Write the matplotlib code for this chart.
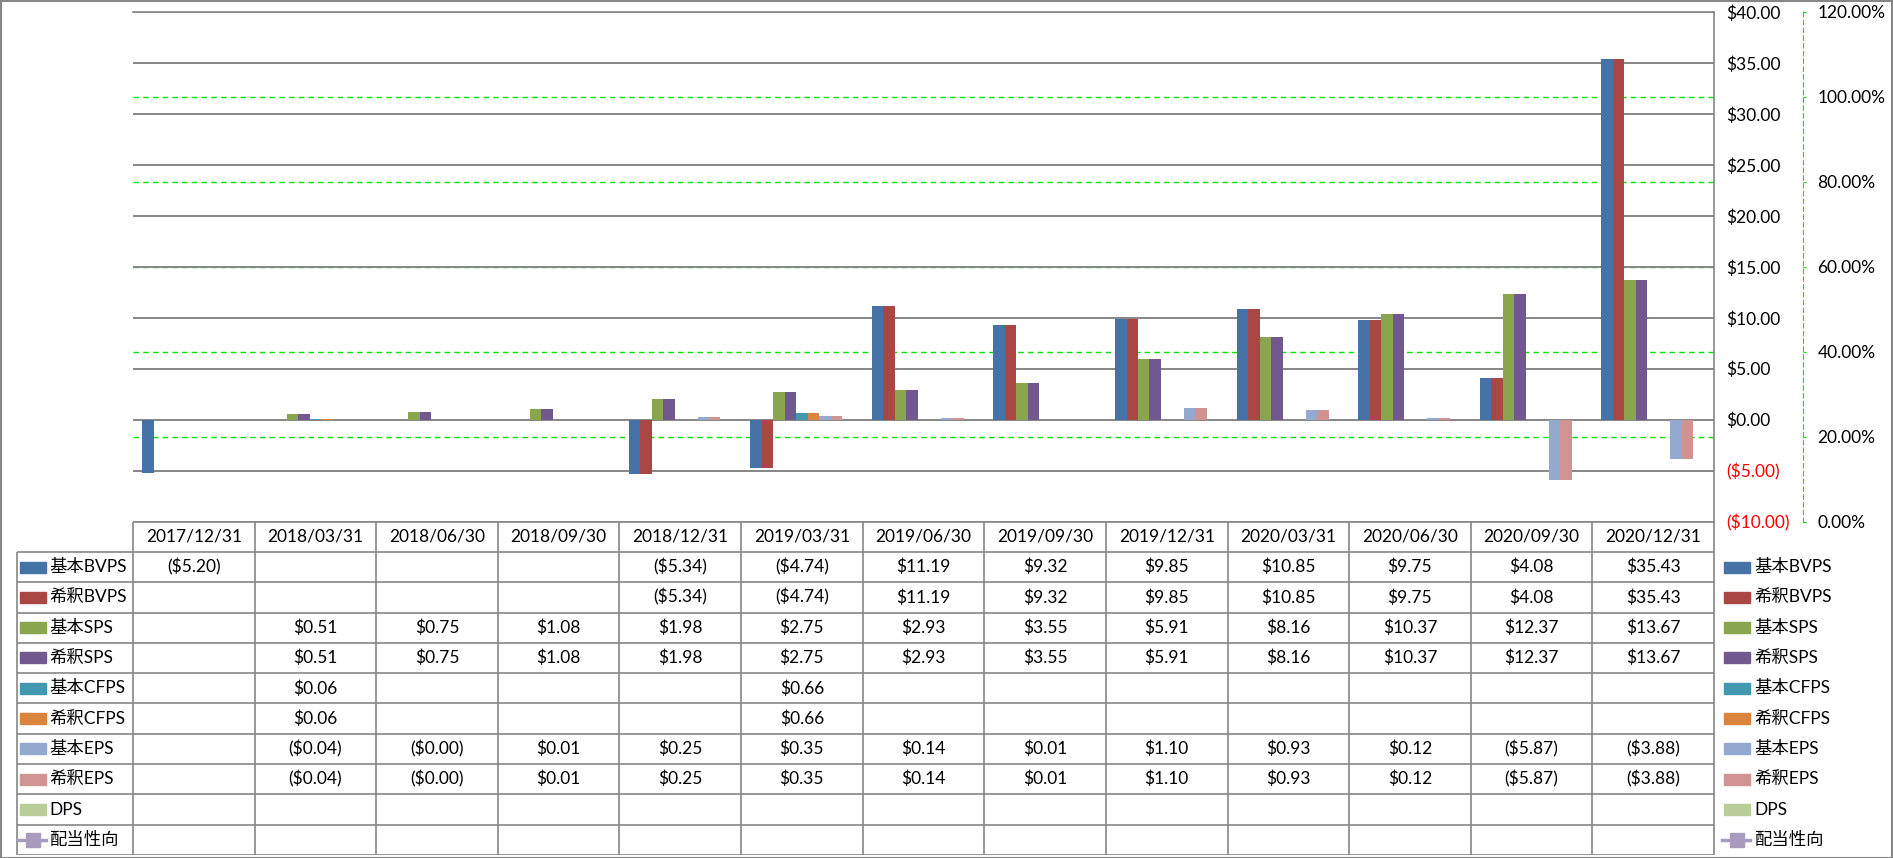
import matplotlib
matplotlib.use("Agg")
import matplotlib.pyplot as plt
import numpy as np
from matplotlib.patches import Rectangle

plt.rcParams['font.family'] = ['Lato', 'Noto Sans CJK JP']

dates = ["2017/12/31", "2018/03/31", "2018/06/30", "2018/09/30", "2018/12/31",
         "2019/03/31", "2019/06/30", "2019/09/30", "2019/12/31", "2020/03/31",
         "2020/06/30", "2020/09/30", "2020/12/31"]

basic_bvps = [-5.20, None, None, None, -5.34, -4.74, 11.19, 9.32, 9.85, 10.85, 9.75, 4.08, 35.43]
dil_bvps = [None, None, None, None, -5.34, -4.74, 11.19, 9.32, 9.85, 10.85, 9.75, 4.08, 35.43]
basic_sps = [None, 0.51, 0.75, 1.08, 1.98, 2.75, 2.93, 3.55, 5.91, 8.16, 10.37, 12.37, 13.67]
dil_sps = [None, 0.51, 0.75, 1.08, 1.98, 2.75, 2.93, 3.55, 5.91, 8.16, 10.37, 12.37, 13.67]
basic_cfps = [None, 0.06, None, None, None, 0.66, None, None, None, None, None, None, None]
dil_cfps = [None, 0.06, None, None, None, 0.66, None, None, None, None, None, None, None]
basic_eps = [None, -0.04, -0.004, 0.01, 0.25, 0.35, 0.14, 0.01, 1.10, 0.93, 0.12, -5.87, -3.88]
dil_eps = [None, -0.04, -0.004, 0.01, 0.25, 0.35, 0.14, 0.01, 1.10, 0.93, 0.12, -5.87, -3.88]
dps = [None] * 13
payout = [None] * 13

names = ["基本BVPS", "希釈BVPS", "基本SPS", "希釈SPS", "基本CFPS", "希釈CFPS",
         "基本EPS", "希釈EPS", "DPS", "配当性向"]
bar_series = [basic_bvps, dil_bvps, basic_sps, dil_sps, basic_cfps, dil_cfps,
              basic_eps, dil_eps, dps]
colors = ["#4572A7", "#AA4643", "#89A54E", "#71588F", "#4198AF", "#DB843D",
          "#93A9CF", "#D19392", "#B9CD96", "#A99BBD"]

primary_ticks = list(range(-10, 41, 5))
secondary_ticks = [0, 0.2, 0.4, 0.6, 0.8, 1.0, 1.2]

W, H = 1893, 858
GRID = "#868686"
LIME = "#00E600"
FS = 12.5

fig = plt.figure(figsize=(W / 100, H / 100), dpi=100)

def money(v):
    if v is None:
        return ""
    if v < 0:
        return "(${:.2f})".format(abs(v))
    return "${:.2f}".format(v)

# plot area
pl, pr, pt, pb = 133, 1714, 12, 521.6
ax = fig.add_axes([pl / W, 1 - pb / H, (pr - pl) / W, (pb - pt) / H])

n = len(bar_series)
w = 0.0945
margin = (1 - n * w) / 2
x0 = np.arange(len(dates))
for k, vals in enumerate(bar_series):
    h = [np.nan if v is None else v for v in vals]
    ax.bar(x0 + margin + (k + 0.5) * w, h, width=w, color=colors[k], zorder=3)

ax.set_xlim(0, len(dates))
ax.set_ylim(-10, 40)
ax.set_xticks([])
ax.grid(axis="y", color=GRID, linewidth=1.4)
ax.set_axisbelow(True)

ax2 = ax.twinx()
ax2.set_ylim(0, 1.2)
ax2.set_yticks(secondary_ticks)
ax2.set_yticklabels(["{:.2f}%".format(v * 100) for v in secondary_ticks])
ax2.tick_params(axis="y", length=2.5, color=LIME, pad=8, labelsize=FS)
# inner secondary gridlines (the outer ones fall on the plot edges)
ax2.hlines(secondary_ticks[1:-1], 0, 1, transform=ax2.get_yaxis_transform(),
           color=LIME, linestyle=(0, (4, 3)), linewidth=1)
for s in ["top", "left", "bottom"]:
    ax2.spines[s].set_visible(False)
ax2.spines["right"].set_position(("outward", 64))
ax2.spines["right"].set_color(LIME)
ax2.spines["right"].set_linestyle((0, (4, 3)))

# primary axis labels sit right of the plot, after twinx reset them
ax.yaxis.tick_right()
ax.set_yticks(primary_ticks)
ax.set_yticklabels([money(v) for v in primary_ticks])
for lab, v in zip(ax.get_yticklabels(), primary_ticks):
    lab.set_color("red" if v < 0 else "black")
ax.tick_params(axis="y", length=0, pad=9, labelsize=FS)
for s in ["left", "bottom"]:
    ax.spines[s].set_visible(False)
for s in ["top", "right"]:
    ax.spines[s].set_color(GRID)
    ax.spines[s].set_linewidth(1.2)
ax.set_zorder(ax2.get_zorder() + 1)
ax.patch.set_visible(False)

# data table
tb = 855
cw = (pr - pl) / len(dates)
tax = fig.add_axes([0, 1 - tb / H, 1, (tb - pb) / H])
tax.set_xlim(-pl / cw, (W - pl) / cw)
tax.set_ylim(11, 0)
tax.axis("off")
lc = (17 - pl) / cw
ncol = len(dates)
tax.hlines(0, 0, ncol, color=GRID, lw=1.2)
tax.hlines(np.arange(1, 12), lc, ncol, color=GRID, lw=1.2)
tax.vlines(np.arange(0, ncol + 1), 0, 11, color=GRID, lw=1.2)
tax.vlines(lc, 1, 11, color=GRID, lw=1.2)

for i, d in enumerate(dates):
    tax.text(i + 0.5, 0.5, d, ha="center", va="center", fontsize=FS)
for r, vals in enumerate(bar_series + [payout]):
    for i, v in enumerate(vals):
        tax.text(i + 0.5, r + 1.5, money(v), ha="center", va="center", fontsize=FS)

ph = 11 / ((tb - pb) / 11)
for r, name in enumerate(names):
    for px_patch, px_text in [(20, 49), (1724, 1754)]:
        xp = (px_patch - pl) / cw
        xt = (px_text - pl) / cw
        if r < 9:
            tax.add_patch(Rectangle((xp, r + 1.5 - ph / 2), 26 / cw, ph,
                                    color=colors[r], clip_on=False))
        else:
            tax.plot([xp - 2 / cw, xp + 26 / cw], [r + 1.5, r + 1.5], color=colors[r],
                     lw=2.5, clip_on=False)
            tax.plot([xp + 13 / cw], [r + 1.5], color=colors[r], marker="s",
                     markersize=10, clip_on=False)
        tax.text(xt, r + 1.5, name, ha="left", va="center", fontsize=FS)

fig.patches.append(Rectangle((0.5 / W, 0.5 / H), 1 - 1.5 / W, 1 - 1.5 / H,
                             transform=fig.transFigure, fill=False,
                             edgecolor=GRID, linewidth=1.5))

fig.savefig("out.png", dpi=100)
